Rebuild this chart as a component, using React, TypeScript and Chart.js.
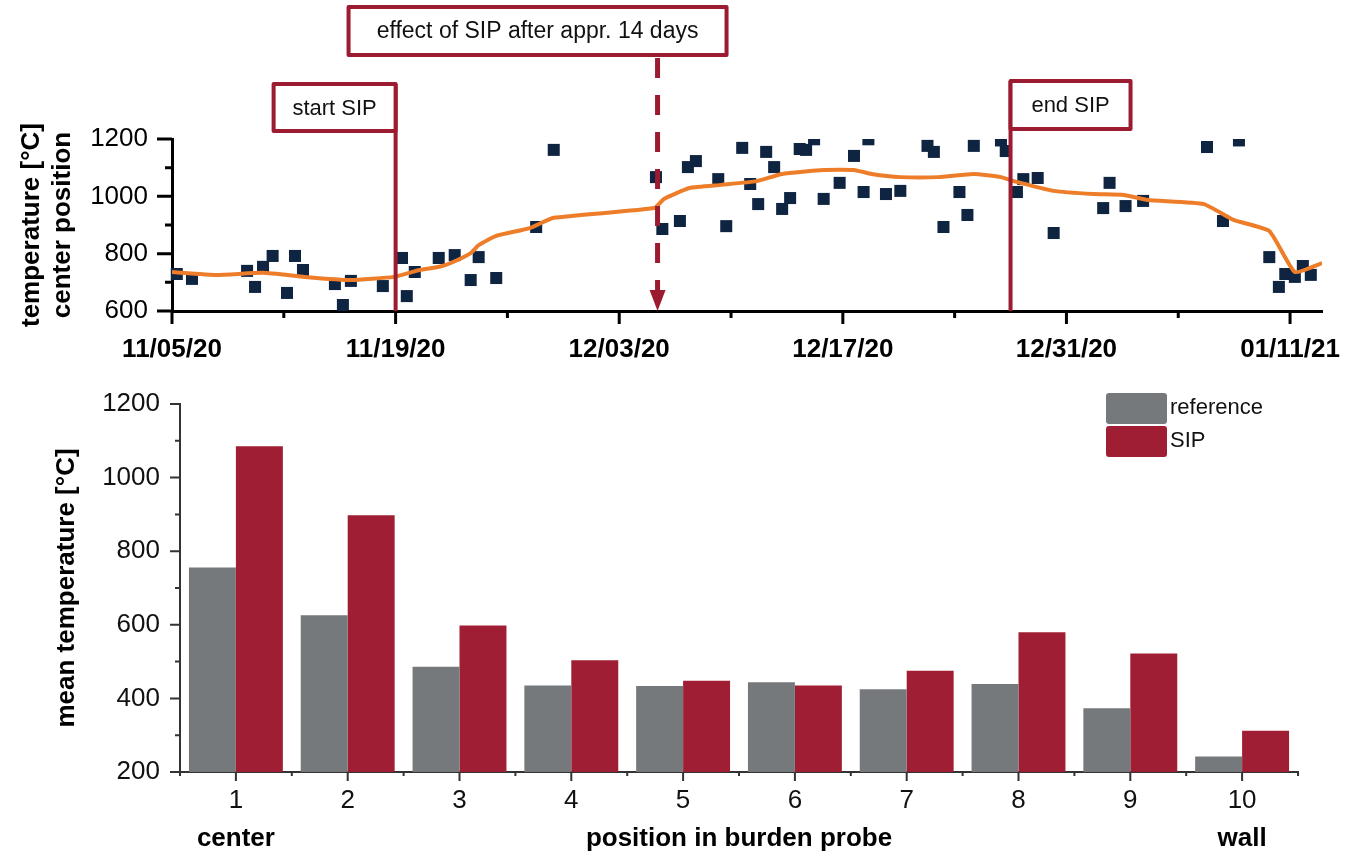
import React, { useEffect, useRef } from 'react';
import { Chart, registerables } from 'chart.js';

Chart.register(...registerables);

const FONT = "'Liberation Sans', Arial, Helvetica, sans-serif";
const CRIMSON = '#9B1B30';
const NAVY = '#0E2441';
const ORANGE = '#EE7D2A';
const GRAY = '#76797C';
const RED = '#A01E33';

// ---------- top chart data (x = days since 11/05/20) ----------
const scatterDays = [
  0.3, 1.25, 4.7, 5.2, 5.7, 6.3, 7.2, 7.7, 8.2, 10.2, 10.7, 11.2, 13.2, 14.4, 14.7, 15.2, 16.7, 17.7,
  18.7, 19.2, 20.3, 22.8, 23.9, 30.3, 30.7, 31.8, 32.3, 32.8, 34.2, 34.7, 35.7, 36.2, 36.7, 37.2,
  37.7, 38.2, 38.7, 39.3, 39.7, 40.2, 40.8, 41.8, 42.7, 43.3, 43.6, 44.7, 45.6, 47.3, 47.7, 48.3,
  49.3, 49.8, 50.2, 51.9, 52.2, 52.9, 53.3, 54.2, 55.2, 58.3, 58.7, 59.7, 60.8, 64.8, 65.8, 66.8,
  68.7, 69.3, 69.7, 70.3, 70.8, 71.3,
];
const scatterTemps = [
  729, 712, 740, 684, 754, 792, 663, 792, 743, 694, 621, 705, 687, 785, 652, 736, 785, 795,
  708, 788, 715, 893, 1162, 1067, 886, 914, 1102, 1123, 1060, 896, 1169, 1043, 973, 1155,
  1102, 956, 994, 1165, 1162, 1199, 991, 1047, 1141, 1015, 1199, 1008, 1019, 1176, 1155, 893,
  1015, 935, 1176, 1195, 1158, 1015, 1060, 1064, 872, 959, 1047, 966, 984, 1172, 914, 1195,
  788, 684, 729, 719, 757, 726,
];
const trendDays = [
  0, 2.8, 5.7, 8.3, 11.2, 13.9, 15.5, 16.8, 17.6, 18.7, 19.2, 20.3, 22.4, 23.9, 30.2, 30.8, 32.4,
  34.4, 36.6, 38.2, 40.8, 42.7, 43.8, 45.6, 48, 50.2, 51.9, 52.7, 55.2, 57.7, 59.6, 61.1, 64.6,
  66.5, 68.7, 70.3, 72,
];
const trendTemps = [
  736, 726, 733, 719, 708, 719, 743, 755, 771, 802, 830, 862, 889, 925, 959, 991, 1029,
  1040, 1053, 1078, 1092, 1092, 1078, 1067, 1067, 1078, 1067, 1053, 1019, 1008, 1005, 987, 973,
  917, 879, 736, 767,
];
const dateTickDays = [0, 14, 28, 42, 56, 70];
const dateTickLabels = ['11/05/20', '11/19/20', '12/03/20', '12/17/20', '12/31/20', '01/11/21'];
const dateMinorDays = [7, 21, 35, 49, 63];
const tempTicks = [600, 800, 1000, 1200];
const tempMinorTicks = [700, 900, 1100];
const annotationDays = [14, 30.4, 52.5];
const annotationTexts = ['start SIP', 'effect of SIP after appr. 14 days', 'end SIP'];

// ---------- bottom chart data ----------
const positions = ['1', '2', '3', '4', '5', '6', '7', '8', '9', '10'];
const referenceMeans = [756, 626, 486, 435, 434, 444, 425, 439, 373, 242];
const sipMeans = [1085, 898, 598, 504, 448, 435, 475, 580, 522, 312];
const meanTicks = [200, 400, 600, 800, 1000, 1200];
const meanMinorTicks = [300, 500, 700, 900, 1100];
const positionEndLabels = ['center', 'wall'];

Chart.defaults.font.family = FONT;
Chart.defaults.color = '#000';

function drawBox(ctx: CanvasRenderingContext2D, x: number, y: number, w: number, h: number, text: string, size: number) {
  ctx.save();
  ctx.beginPath();
  ctx.rect(x, y, w, h);
  ctx.fillStyle = '#fff';
  ctx.fill();
  ctx.lineWidth = 4;
  ctx.strokeStyle = CRIMSON;
  ctx.lineJoin = 'round';
  ctx.stroke();
  ctx.fillStyle = '#111';
  ctx.font = `${size}px ${FONT}`;
  ctx.textAlign = 'center';
  ctx.textBaseline = 'middle';
  ctx.fillText(text, x + w / 2, y + h / 2 + 1);
  ctx.restore();
}

const topTicksPlugin = {
  id: 'topTicks',
  afterDraw(chart: any) {
    const { ctx, chartArea, scales } = chart;
    const xs = scales.x;
    const ys = scales.y;
    ctx.save();
    ctx.strokeStyle = '#000';
    ctx.lineWidth = 3;
    ctx.beginPath();
    dateTickDays.forEach((d) => {
      const px = xs.getPixelForValue(d);
      ctx.moveTo(px, chartArea.bottom);
      ctx.lineTo(px, chartArea.bottom + 13);
    });
    dateMinorDays.forEach((d) => {
      const px = xs.getPixelForValue(d);
      ctx.moveTo(px, chartArea.bottom);
      ctx.lineTo(px, chartArea.bottom + 7);
    });
    tempTicks.forEach((v) => {
      const py = ys.getPixelForValue(v);
      ctx.moveTo(chartArea.left, py);
      ctx.lineTo(chartArea.left - 15, py);
    });
    tempMinorTicks.forEach((v) => {
      const py = ys.getPixelForValue(v);
      ctx.moveTo(chartArea.left, py);
      ctx.lineTo(chartArea.left - 7, py);
    });
    ctx.stroke();
    ctx.restore();
  },
};

const sipAnnotationPlugin = {
  id: 'sipAnnotations',
  afterDraw(chart: any) {
    const { ctx, chartArea, scales } = chart;
    const x = scales.x;
    const xStart = x.getPixelForValue(annotationDays[0]);
    const xEffect = x.getPixelForValue(annotationDays[1]);
    const xEnd = x.getPixelForValue(annotationDays[2]);
    const top = chartArea.top;
    const bottom = chartArea.bottom;
    ctx.save();
    ctx.strokeStyle = CRIMSON;
    ctx.fillStyle = CRIMSON;
    ctx.lineWidth = 4;
    ctx.beginPath();
    ctx.moveTo(xStart, top - 55);
    ctx.lineTo(xStart, bottom);
    ctx.moveTo(xEnd, top - 58);
    ctx.lineTo(xEnd, bottom);
    ctx.stroke();
    ctx.lineWidth = 5;
    ctx.setLineDash([20, 17]);
    ctx.beginPath();
    ctx.moveTo(xEffect, top - 81);
    ctx.lineTo(xEffect, bottom - 20);
    ctx.stroke();
    ctx.setLineDash([]);
    ctx.beginPath();
    ctx.moveTo(xEffect - 8, bottom - 21);
    ctx.lineTo(xEffect + 8, bottom - 21);
    ctx.lineTo(xEffect, bottom);
    ctx.closePath();
    ctx.fill();
    ctx.restore();
    drawBox(ctx, xStart - 122, top - 55, 122, 47, annotationTexts[0], 22);
    drawBox(ctx, xEffect - 309, top - 132, 378, 48, annotationTexts[1], 23);
    drawBox(ctx, xEnd, top - 58, 120, 48, annotationTexts[2], 22);
  },
};

const bottomDecorPlugin = {
  id: 'bottomDecor',
  afterDraw(chart: any) {
    const { ctx, chartArea, scales } = chart;
    const xs = scales.x;
    const ys = scales.y;
    ctx.save();
    ctx.strokeStyle = '#333';
    ctx.lineWidth = 2;
    ctx.beginPath();
    for (let i = 0; i < positions.length; i++) {
      const px = xs.getPixelForValue(i);
      ctx.moveTo(px, chartArea.bottom);
      ctx.lineTo(px, chartArea.bottom + 9);
    }
    for (let k = 0; k <= positions.length; k++) {
      const px = xs.getPixelForValue(k - 0.5);
      ctx.moveTo(px, chartArea.bottom);
      ctx.lineTo(px, chartArea.bottom + 4);
    }
    meanTicks.forEach((v) => {
      const py = ys.getPixelForValue(v);
      ctx.moveTo(chartArea.left, py);
      ctx.lineTo(chartArea.left - 10, py);
    });
    meanMinorTicks.forEach((v) => {
      const py = ys.getPixelForValue(v);
      ctx.moveTo(chartArea.left, py);
      ctx.lineTo(chartArea.left - 5, py);
    });
    ctx.stroke();

    // end labels
    ctx.fillStyle = '#000';
    ctx.font = `bold 26px ${FONT}`;
    ctx.textAlign = 'center';
    ctx.textBaseline = 'middle';
    const labelY = xs.bottom - 15.6;
    ctx.fillText(positionEndLabels[0], xs.getPixelForValue(0), labelY);
    ctx.fillText(positionEndLabels[1], xs.getPixelForValue(positions.length - 1), labelY);

    // legend
    const ds = chart.data.datasets;
    const lx = chartArea.right - 192;
    const rows = [chartArea.top - 11, chartArea.top + 22];
    ds.forEach((d: any, i: number) => {
      const y = rows[i];
      ctx.beginPath();
      ctx.roundRect(lx, y, 61, 31, 3);
      ctx.fillStyle = d.backgroundColor;
      ctx.fill();
      ctx.fillStyle = '#111';
      ctx.font = `22px ${FONT}`;
      ctx.textAlign = 'left';
      ctx.textBaseline = 'middle';
      ctx.fillText(d.label, lx + 64, y + 15);
    });
    ctx.restore();
  },
};

export default function App() {
  const topRef = useRef<HTMLCanvasElement>(null);
  const botRef = useRef<HTMLCanvasElement>(null);

  useEffect(() => {
    const scatterData = scatterDays.map((d, i) => ({ x: d, y: scatterTemps[i] }));
    const trendData = trendDays.map((d, i) => ({ x: d, y: trendTemps[i] }));

    const top = new Chart(topRef.current as HTMLCanvasElement, {
      type: 'scatter',
      data: {
        datasets: [
          {
            label: 'trend',
            data: trendData,
            showLine: true,
            borderColor: ORANGE,
            borderWidth: 4,
            pointRadius: 0,
            tension: 0.15,
            borderJoinStyle: 'round',
          } as any,
          {
            label: 'temperature',
            data: scatterData,
            pointStyle: 'rect',
            pointRadius: 8.5,
            backgroundColor: NAVY,
            borderColor: NAVY,
            borderWidth: 0,
            clip: { left: 7, top: 0, right: 7, bottom: 7 },
          } as any,
        ],
      },
      options: {
        responsive: false,
        devicePixelRatio: 1,
        animation: false,
        events: [],
        layout: { padding: { top: 139, right: 38, left: 0, bottom: 0 } },
        plugins: { legend: { display: false }, tooltip: { enabled: false } },
        scales: {
          x: {
            type: 'linear',
            min: 0,
            max: 72,
            afterBuildTicks: (scale: any) => {
              scale.ticks = dateTickDays.map((v) => ({ value: v }));
            },
            afterFit: (scale: any) => {
              scale.height = 59;
            },
            grid: { display: false, drawTicks: true, tickLength: 12 },
            border: { display: true, color: '#000', width: 3 },
            ticks: {
              autoSkip: false,
              maxRotation: 0,
              padding: 11,
              color: '#000',
              font: { size: 26, weight: 'bold' },
              callback: (_v: any, i: number) => dateTickLabels[i],
            },
          },
          y: {
            type: 'linear',
            min: 600,
            max: 1200,
            afterFit: (scale: any) => {
              scale.width = 172;
            },
            grid: { display: false, drawTicks: true, tickLength: 15 },
            border: { display: true, color: '#000', width: 3 },
            ticks: {
              stepSize: 200,
              padding: 9,
              color: '#000',
              font: { size: 26 },
              callback: (v: any) => String(v),
            },
            title: {
              display: true,
              text: ['temperature [°C]', 'center position'],
              color: '#000',
              font: { size: 26, weight: 'bold', lineHeight: 1.2 },
              padding: { top: 16, bottom: 0 },
            },
          },
        },
      } as any,
      plugins: [topTicksPlugin, sipAnnotationPlugin],
    });

    const bottom = new Chart(botRef.current as HTMLCanvasElement, {
      type: 'bar',
      data: {
        labels: positions,
        datasets: [
          { label: 'reference', data: referenceMeans, backgroundColor: GRAY, borderWidth: 0 },
          { label: 'SIP', data: sipMeans, backgroundColor: RED, borderWidth: 0 },
        ],
      },
      options: {
        responsive: false,
        devicePixelRatio: 1,
        animation: false,
        events: [],
        layout: { padding: { top: 34, right: 62, left: 0, bottom: 0 } },
        datasets: { bar: { categoryPercentage: 0.84, barPercentage: 1.0 } },
        plugins: { legend: { display: false }, tooltip: { enabled: false } },
        scales: {
          x: {
            afterFit: (scale: any) => {
              scale.height = 82;
            },
            grid: { display: false, drawTicks: true, tickLength: 9 },
            border: { display: true, color: '#333', width: 2 },
            ticks: { padding: 4, color: '#111', font: { size: 26 } },
            title: {
              display: true,
              text: 'position in burden probe',
              color: '#000',
              font: { size: 26, weight: 'bold', lineHeight: 1.2 },
              padding: { top: 0, bottom: 0 },
            },
          },
          y: {
            min: 200,
            max: 1200,
            afterFit: (scale: any) => {
              scale.width = 180;
            },
            grid: { display: false, drawTicks: true, tickLength: 10 },
            border: { display: true, color: '#333', width: 2 },
            ticks: {
              stepSize: 200,
              padding: 10,
              color: '#111',
              font: { size: 26 },
              callback: (v: any) => String(v),
            },
            title: {
              display: true,
              text: 'mean temperature [°C]',
              color: '#000',
              font: { size: 26, weight: 'bold', lineHeight: 1.2 },
              padding: { top: 51, bottom: 0 },
            },
          },
        },
      } as any,
      plugins: [bottomDecorPlugin],
    });

    return () => {
      top.destroy();
      bottom.destroy();
    };
  }, []);

  return (
    <div style={{ position: 'absolute', left: 0, top: 0, width: 1360, height: 854, background: '#fff' }}>
      <canvas ref={topRef} width={1360} height={370} style={{ position: 'absolute', left: 0, top: 0 }} />
      <canvas ref={botRef} width={1360} height={484} style={{ position: 'absolute', left: 0, top: 370 }} />
    </div>
  );
}
